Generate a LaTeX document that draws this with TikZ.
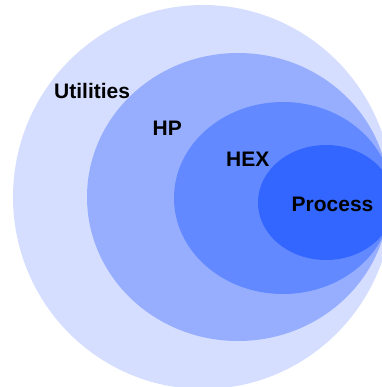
\documentclass[tikz,border=0pt]{standalone}
\usepackage{fontspec}
\setmainfont{Liberation Sans}
\usetikzlibrary{shapes.geometric}
\definecolor{utilcol}{HTML}{D6DEFF}
\definecolor{hpcol}{HTML}{97AEFF}
\definecolor{hexcol}{HTML}{6289FF}
\definecolor{proccol}{HTML}{3366FF}
\begin{document}
\begin{tikzpicture}[x=1bp,y=-1bp,ring/.style={ellipse,inner sep=0pt,draw=none},
	lbl/.style={anchor=base west,inner sep=0pt,font=\fontsize{21bp}{25bp}\selectfont\bfseries}]
		\useasboundingbox (0,0) rectangle (382,387);
		\clip (0,0) rectangle (382,387);
		\node[ring,fill=utilcol,minimum width=380bp,minimum height=384bp] (util) at (203,197) {};
		\node[ring,fill=hpcol,minimum width=302bp,minimum height=288bp] (hp) at (238,197) {};
		\node[ring,fill=hexcol,minimum width=218bp,minimum height=192bp] (hex) at (283,198) {};
		\node[ring,fill=proccol,minimum width=136bp,minimum height=115bp] (proc) at (326,202.5) {};
		\node[lbl] (Lutil) at (54,98) {Utilities};
		\node[lbl] (Lhp) at (152.5,135) {HP};
		\node[lbl] (Lhex) at (226,166.5) {HEX};
		\node[lbl] (Lproc) at (291.5,211.5) {Process};
	\end{tikzpicture}
\end{document}
